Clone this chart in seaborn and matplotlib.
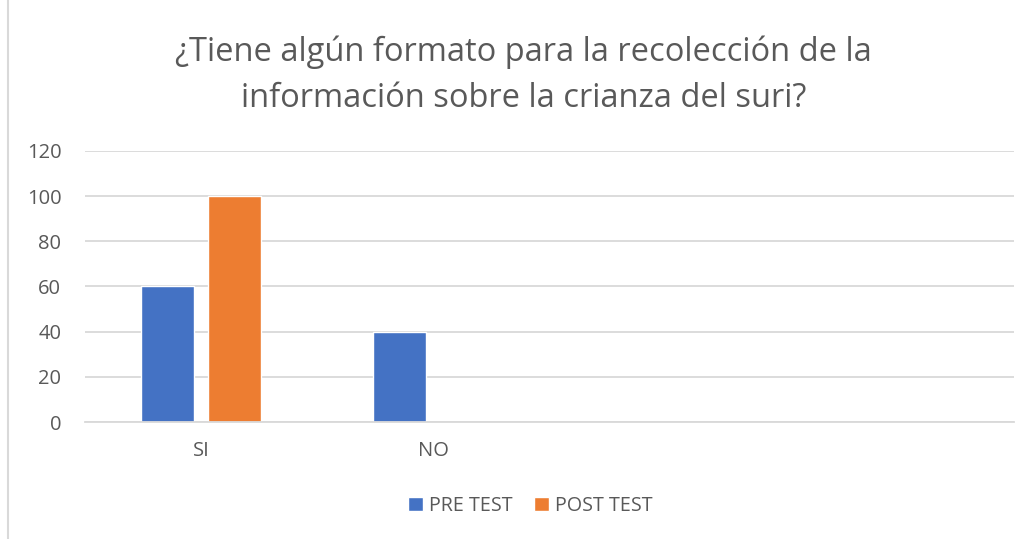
import pandas as pd
import matplotlib.pyplot as plt
import seaborn as sns
from matplotlib.patches import Rectangle

# data
categories = ["SI", "NO"]
pre_test = [60, 40]
post_test = [100, 0]
series_names = ["PRE TEST", "POST TEST"]
y_ticks = [0, 20, 40, 60, 80, 100, 120]

title = "¿Tiene algún formato para la recolección de la\ninformación sobre la crianza del suri?"

df = pd.DataFrame({
    "categoria": categories * 2,
    "serie": [series_names[0]] * len(categories) + [series_names[1]] * len(categories),
    "valor": pre_test + post_test,
})

sns.set_style("white")
plt.rcParams["font.family"] = ["Open Sans", "DejaVu Sans"]

fig = plt.figure(figsize=(10.3, 5.39), dpi=100)
ax = fig.add_axes([0.0825, 0.217, 0.902, 0.503])

palette = {"PRE TEST": "#4472C4", "POST TEST": "#ED7D31"}
sns.barplot(data=df, x="categoria", y="valor", hue="serie", order=categories,
            hue_order=series_names, palette=palette, width=0.578, gap=0.209,
            saturation=1, ax=ax, legend=True)

# two empty categories follow on the axis
ax.set_xlim(-0.5, 3.5)
ax.set_ylim(0, 120)
ax.set_yticks(y_ticks)
ax.yaxis.grid(True, color="#D9D9D9", linewidth=1.3)
ax.set_axisbelow(True)
for side in ["top", "right", "left"]:
    ax.spines[side].set_visible(False)
ax.spines["bottom"].set_color("#D9D9D9")
ax.spines["bottom"].set_linewidth(1.3)
ax.tick_params(axis="both", length=0, labelsize=14.5, labelcolor="#595959")
ax.tick_params(axis="y", pad=17)
ax.tick_params(axis="x", pad=14)
ax.set_xlabel("")
ax.set_ylabel("")

fig.text(0.508, 0.935, title, ha="center", va="top", fontsize=23.5,
         color="#595959", linespacing=1.52)

leg = ax.legend(loc="center", bbox_to_anchor=(0.479, -0.31),
                ncol=2, frameon=False, fontsize=14.2, handlelength=0.75,
                handleheight=0.75, columnspacing=1.1, handletextpad=0.3)
for t in leg.get_texts():
    t.set_color("#595959")

# chart frame
fig.patches.append(Rectangle((0.008, -0.01), 1.1, 1.1, transform=fig.transFigure,
                             fill=False, edgecolor="#D9D9D9", linewidth=1.5))

plt.savefig("out.png", dpi=100)
plt.close()
